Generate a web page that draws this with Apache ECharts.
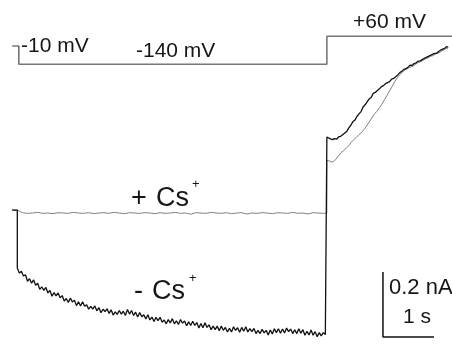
<!DOCTYPE html>
<html>
<head>
<meta charset="utf-8">
<script src="https://cdn.jsdelivr.net/npm/echarts@6/dist/echarts.min.js"></script>
<style>
  html, body { margin: 0; padding: 0; background: #fff; }
  #chart { width: 452px; height: 346px; }
</style>
</head>
<body>
<div id="chart"></div>
<script>
// voltage protocol (s, mV)
const voltageTimes = [-0.1, 0.03, 0.03, 6.07, 6.07, 8.53]
const voltageLevels = [-10, -10, -140, -140, 60, 60]

// -Cs trace at -140 mV, one sample every 0.04 s from t = 0 (nA)
const minusCsStep = 0.04
const minusCsPre = [
  -0.169, -0.185, -0.179, -0.194, -0.190,
  -0.210, -0.202, -0.216, -0.206, -0.222,
  -0.216, -0.235, -0.227, -0.238, -0.229,
  -0.246, -0.238, -0.256, -0.245, -0.255,
  -0.246, -0.261, -0.254, -0.271, -0.263,
  -0.275, -0.262, -0.274, -0.268, -0.285,
  -0.273, -0.286, -0.273, -0.287, -0.282,
  -0.296, -0.287, -0.296, -0.286, -0.301,
  -0.291, -0.307, -0.296, -0.303, -0.295,
  -0.309, -0.298, -0.314, -0.304, -0.312,
  -0.300, -0.311, -0.302, -0.315, -0.297,
  -0.311, -0.300, -0.315, -0.305, -0.320,
  -0.306, -0.319, -0.313, -0.326, -0.313,
  -0.329, -0.320, -0.334, -0.321, -0.331,
  -0.321, -0.336, -0.329, -0.341, -0.328,
  -0.338, -0.325, -0.341, -0.332, -0.343,
  -0.328, -0.339, -0.332, -0.347, -0.335,
  -0.346, -0.333, -0.346, -0.337, -0.354,
  -0.340, -0.353, -0.338, -0.352, -0.344,
  -0.359, -0.348, -0.359, -0.348, -0.362,
  -0.348, -0.361, -0.352, -0.366, -0.355,
  -0.366, -0.350, -0.361, -0.353, -0.367,
  -0.352, -0.364, -0.350, -0.366, -0.356,
  -0.365, -0.355, -0.371, -0.361, -0.371,
  -0.358, -0.369, -0.361, -0.375, -0.360,
  -0.372, -0.356, -0.368, -0.356, -0.370,
  -0.357, -0.369, -0.354, -0.365, -0.357,
  -0.371, -0.359, -0.371, -0.356, -0.370,
  -0.359, -0.376, -0.364, -0.375, -0.360,
  -0.376, -0.365, -0.381, -0.368, -0.378,
  -0.368, -0.374
]

// -Cs trace at +60 mV [s, nA]
const minusCsPost = [
  [6.07, 0.234], [6.10, 0.236], [6.14, 0.228], [6.18, 0.226], [6.22, 0.229], [6.26, 0.227],
  [6.30, 0.234], [6.34, 0.236], [6.38, 0.241], [6.42, 0.246], [6.46, 0.251], [6.50, 0.262],
  [6.54, 0.270], [6.58, 0.281], [6.62, 0.286], [6.66, 0.297], [6.70, 0.305], [6.74, 0.312],
  [6.78, 0.326], [6.82, 0.333], [6.86, 0.342], [6.90, 0.351], [6.94, 0.356], [6.98, 0.368],
  [7.02, 0.371], [7.06, 0.377], [7.10, 0.382], [7.14, 0.389], [7.18, 0.392], [7.22, 0.398],
  [7.26, 0.401], [7.30, 0.404], [7.34, 0.412], [7.38, 0.414], [7.42, 0.419], [7.46, 0.425],
  [7.50, 0.432], [7.54, 0.436], [7.58, 0.442], [7.62, 0.444], [7.66, 0.448], [7.70, 0.455],
  [7.74, 0.454], [7.78, 0.460], [7.82, 0.462], [7.86, 0.467], [7.90, 0.468], [7.94, 0.472],
  [7.98, 0.476], [8.02, 0.479], [8.06, 0.482], [8.10, 0.485], [8.14, 0.488], [8.18, 0.491],
  [8.22, 0.491], [8.26, 0.497], [8.30, 0.501], [8.34, 0.504], [8.38, 0.507], [8.42, 0.512],
  [8.45, 0.510]
]

// +Cs trace at -140 mV, one sample every 0.1 s from t = 0.1 (nA)
const plusCsStep = 0.1
const plusCsPre = [
  0.001, -0.001, 0.000, 0.002, -0.001, 0.000, -0.002, 0.001, 0.000, -0.001,
  0.002, 0.000, -0.001, 0.001, -0.002, 0.000, 0.001, -0.001, 0.002, 0.000,
  -0.002, 0.001, 0.000, -0.001, 0.001, 0.000, -0.002, 0.001, -0.001, 0.000,
  0.002, -0.001, 0.000, -0.004, 0.001, 0.000, -0.001, 0.002, 0.000, -0.001,
  0.001, -0.002, 0.000, 0.001, -0.003, 0.000, -0.001, 0.001, 0.000, -0.002,
  0.001, 0.000, -0.001, 0.002, -0.001, 0.000, -0.003, 0.001, 0.000, -0.001
]

// +Cs trace at +60 mV [s, nA]
const plusCsPost = [
  [6.07, 0.162], [6.12, 0.160], [6.16, 0.157], [6.20, 0.158], [6.25, 0.166], [6.30, 0.176],
  [6.35, 0.186], [6.40, 0.192], [6.45, 0.200], [6.50, 0.207], [6.55, 0.218], [6.60, 0.226],
  [6.65, 0.233], [6.70, 0.241], [6.75, 0.248], [6.80, 0.257], [6.85, 0.268], [6.90, 0.280],
  [6.95, 0.292], [7.00, 0.304], [7.05, 0.313], [7.10, 0.324], [7.15, 0.335], [7.20, 0.349],
  [7.25, 0.362], [7.30, 0.376], [7.35, 0.389], [7.40, 0.404], [7.45, 0.416], [7.50, 0.426],
  [7.55, 0.433], [7.60, 0.440], [7.65, 0.444], [7.70, 0.449], [7.75, 0.451], [7.80, 0.456],
  [7.85, 0.462], [7.90, 0.465], [7.95, 0.469], [8.00, 0.474], [8.05, 0.477], [8.10, 0.482],
  [8.15, 0.484], [8.20, 0.489], [8.25, 0.492], [8.30, 0.496], [8.35, 0.501], [8.40, 0.505],
  [8.45, 0.508]
]

// holding current before the step, and scale bar (1 s, 0.2 nA)
const holdTimes = [-0.1, 0]
const holdCurrent = 0.009
const scaleBarTimes = [7.17, 7.17, 8.17]
const scaleBarCurrents = [-0.1815, -0.3815, -0.3815]

const font = '"Liberation Sans", Arial, Helvetica, sans-serif'

const chart = echarts.init(document.getElementById('chart'))

const gray = [
  ...holdTimes.map(t => [t, holdCurrent]),
  ...plusCsPre.map((v, i) => [(i + 1) * plusCsStep, v]),
  [6.07, 0.0],
  ...plusCsPost
]
const black = [
  ...holdTimes.map(t => [t, holdCurrent]),
  ...minusCsPre.map((v, i) => [i * minusCsStep, v]),
  [6.07, -0.372],
  ...minusCsPost
]

const txt = (x, y, text, size) => ({
  type: 'text',
  x: x,
  y: y,
  silent: true,
  style: {text: text, fontSize: size, fontFamily: font, fill: '#161616', verticalAlign: 'middle'}
})

chart.setOption({
  animation: false,
  grid: [
    {left: 2, right: 0, top: 0, bottom: 0},     // currents
    {left: 2, right: 0, top: 30, height: 40}    // voltage protocol
  ],
  xAxis: [
    {gridIndex: 0, type: 'value', min: -0.3, max: 8.5235, show: false},
    {gridIndex: 1, type: 'value', min: -0.3, max: 8.5235, show: false}
  ],
  yAxis: [
    {gridIndex: 0, type: 'value', min: -0.4092, max: 0.6554, show: false},
    {gridIndex: 1, type: 'value', min: -181.4, max: 104.3, show: false}
  ],
  series: [
    {
      type: 'line', xAxisIndex: 1, yAxisIndex: 1, symbol: 'none',
      lineStyle: {color: '#777', width: 1.6},
      data: voltageTimes.map((t, i) => [t, voltageLevels[i]])
    },
    {
      type: 'line', symbol: 'none',
      lineStyle: {color: '#808080', width: 1},
      data: gray
    },
    {
      type: 'line', symbol: 'none',
      lineStyle: {color: '#111', width: 1.3},
      data: black
    },
    {
      type: 'line', symbol: 'none',
      lineStyle: {color: '#111', width: 1.5},
      data: scaleBarTimes.map((t, i) => [t, scaleBarCurrents[i]])
    }
  ],
  graphic: [
    txt(21, 46, '-10 mV', 21),
    txt(136, 51, '-140 mV', 21),
    txt(353, 22, '+60 mV', 21),
    txt(131, 199, '+', 27),
    txt(156, 199, 'Cs', 27),
    txt(192, 184, '+', 13),
    txt(134, 292, '-', 27),
    txt(152, 292, 'Cs', 27),
    txt(189, 278, '+', 13),
    txt(389, 288, '0.2 nA', 22),
    txt(403, 317, '1 s', 21)
  ]
})
</script>
</body>
</html>
